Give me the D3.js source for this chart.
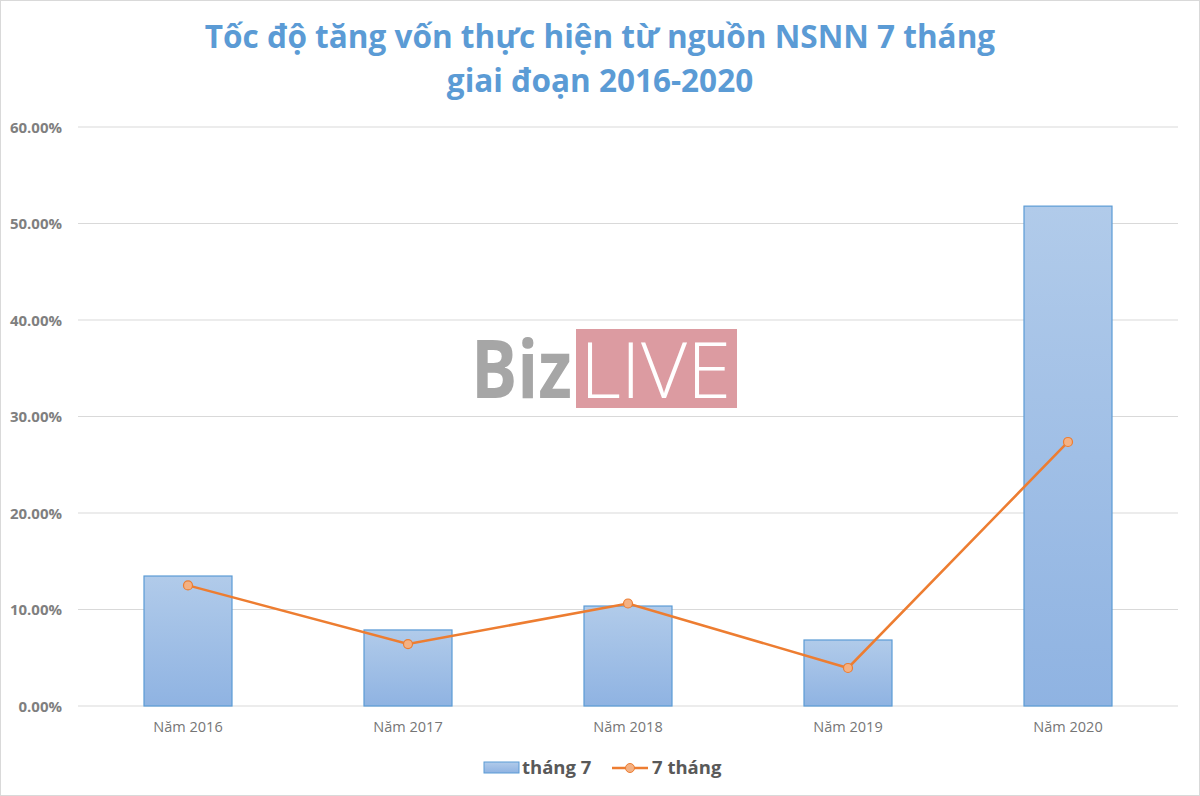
<!DOCTYPE html>
<html><head><meta charset="utf-8">
<script src="https://cdn.jsdelivr.net/npm/d3@7/dist/d3.min.js"></script>
<style>body{margin:0;background:#fff}svg{display:block}</style>
</head><body>
<svg id="c" width="1200" height="796"></svg>
<script>
const categories = ["Năm 2016","Năm 2017","Năm 2018","Năm 2019","Năm 2020"];
const barValues = [13.47, 7.88, 10.36, 6.84, 51.8];   // tháng 7
const lineValues = [12.5, 6.42, 10.62, 3.94, 27.36];  // 7 tháng
const yTicks = [0,10,20,30,40,50,60];
const seriesNames = ["tháng 7","7 tháng"];
const titleLines = ["Tốc độ tăng vốn thực hiện từ nguồn NSNN 7 tháng","giai đoạn 2016-2020"];

const svg = d3.select("#c");
const W=1200,H=796;
const m={left:78,right:22,top:127,bottom:90};
const x=d3.scaleBand().domain(categories).range([m.left,W-m.right]).paddingInner(0.6).paddingOuter(0.3);
const y=d3.scaleLinear().domain([0,60]).range([706,127]);

// border
svg.append("rect").attr("x",0.5).attr("y",0.5).attr("width",W-1).attr("height",H-1)
  .attr("fill","#fff").attr("stroke","#d9d9d9");

// gradient
const defs=svg.append("defs");
const g=defs.append("linearGradient").attr("id","bg").attr("x1",0).attr("y1",0).attr("x2",0).attr("y2",1);
g.append("stop").attr("offset","0%").attr("stop-color","#b1cbea");
g.append("stop").attr("offset","100%").attr("stop-color","#8fb3e2");

// title
svg.append("g").selectAll("text").data(titleLines).join("text")
  .attr("x",600).attr("y",(d,i)=>48+i*44).attr("text-anchor","middle")
  .attr("font-family","Open Sans, sans-serif").attr("font-weight","bold").attr("font-size",31.5)
  .attr("fill","#5b9bd5").text(d=>d);

// gridlines
svg.append("g").selectAll("line").data(yTicks).join("line")
  .attr("x1",m.left).attr("x2",W-m.right).attr("y1",d=>y(d)).attr("y2",d=>y(d))
  .attr("stroke","#d9d9d9").attr("stroke-width",1);

// y axis labels
const yAxis=d3.axisLeft(y).tickValues(yTicks).tickFormat(d=>d.toFixed(2)+"%").tickSize(0).tickPadding(0);
const ya=svg.append("g").attr("transform","translate(62,0)").call(yAxis);
ya.select(".domain").remove();
ya.selectAll("text").attr("font-family","Open Sans, sans-serif").attr("font-weight","bold")
  .attr("font-size",15).attr("fill","#7f7f7f").attr("dy","0.35em");

// watermark
const wm=svg.append("g");
wm.append("text").attr("x",471).attr("y",398).attr("font-family","Open Sans, sans-serif")
  .attr("font-weight","bold").attr("font-size",80).attr("fill","#a6a6a6").attr("textLength",101).attr("lengthAdjust","spacingAndGlyphs").text("Biz");
wm.append("rect").attr("x",576).attr("y",329).attr("width",161).attr("height",79).attr("fill","#dc9ba1");
wm.append("text").attr("x",580).attr("y",398).attr("font-family","Open Sans, sans-serif")
  .attr("font-weight","300").attr("font-size",78).attr("fill","#ffffff").attr("textLength",151).attr("lengthAdjust","spacingAndGlyphs").text("LIVE");

// bars
svg.append("g").selectAll("rect").data(barValues).join("rect")
  .attr("x",(d,i)=>x(categories[i])).attr("width",x.bandwidth())
  .attr("y",d=>y(d)).attr("height",d=>y(0)-y(d))
  .attr("fill","url(#bg)").attr("stroke","#5b9bd5").attr("stroke-width",1.2);

// x axis labels
const xAxis=d3.axisBottom(x).tickSize(0).tickPadding(0);
const xa=svg.append("g").attr("transform","translate(0,727)").call(xAxis);
xa.select(".domain").remove();
xa.selectAll("text").attr("font-family","Open Sans, sans-serif").attr("font-size",14.5)
  .attr("fill","#767676").attr("dy","0.35em");

// line
const cx=(i)=>x(categories[i])+x.bandwidth()/2;
svg.append("path").datum(lineValues)
  .attr("d",d3.line().x((d,i)=>cx(i)).y(d=>y(d)))
  .attr("fill","none").attr("stroke","#ed7d31").attr("stroke-width",2.5);
svg.append("g").selectAll("circle").data(lineValues).join("circle")
  .attr("cx",(d,i)=>cx(i)).attr("cy",d=>y(d)).attr("r",4.5)
  .attr("fill","#f4b183").attr("stroke","#ed7d31").attr("stroke-width",1.2);

// legend
const lg=svg.append("g");
lg.append("rect").attr("x",484).attr("y",762).attr("width",35).attr("height",11)
  .attr("fill","url(#bg)").attr("stroke","#5b9bd5");
lg.append("text").attr("x",522).attr("y",768).attr("dy","0.35em").attr("font-family","Open Sans, sans-serif")
  .attr("font-weight","bold").attr("font-size",18.5).attr("fill","#595959").text(seriesNames[0]);
lg.append("line").attr("x1",612).attr("x2",648).attr("y1",768).attr("y2",768).attr("stroke","#ed7d31").attr("stroke-width",2.5);
lg.append("circle").attr("cx",630).attr("cy",768).attr("r",4.5).attr("fill","#f4b183").attr("stroke","#ed7d31");
lg.append("text").attr("x",652).attr("y",768).attr("dy","0.35em").attr("font-family","Open Sans, sans-serif")
  .attr("font-weight","bold").attr("font-size",18.5).attr("fill","#595959").text(seriesNames[1]);
</script>
</body></html>
